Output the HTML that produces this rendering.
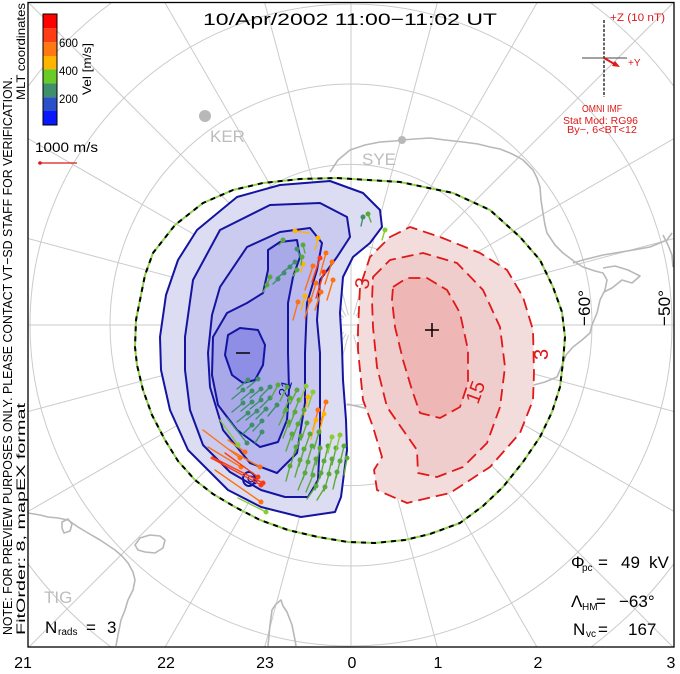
<!DOCTYPE html>
<html><head><meta charset="utf-8"><style>
html,body{margin:0;padding:0;background:#fff;width:680px;height:674px;overflow:hidden;}
svg{display:block;font-family:"Liberation Sans",sans-serif;overflow:hidden;}
</style></head><body>
<svg width="680" height="674" viewBox="0 0 680 674" xmlns="http://www.w3.org/2000/svg">
<defs><clipPath id="fr"><rect x="28" y="2" width="646" height="645"/></clipPath></defs>
<rect width="680" height="674" fill="#fff"/>
<g clip-path="url(#fr)">
<!-- grid -->
<g stroke="#cbcbcb" stroke-width="1" fill="none">
<circle cx="351" cy="325" r="80.3"/><circle cx="351" cy="325" r="160.6"/><circle cx="351" cy="325" r="241"/><circle cx="351" cy="325" r="321"/>
<path d="M28,86.4 A401.6,401.6 0 0 1 112.4,2 M589.6,2 A401.6,401.6 0 0 1 674,86.4 M674,563.6 A401.6,401.6 0 0 1 591,647 M111,647 A401.6,401.6 0 0 1 28,563.6"/>
<line x1="351" y1="2" x2="351" y2="647"/>
<line x1="28" y1="325" x2="674" y2="325"/>
<line x1="353.6" y1="334.7" x2="437.3" y2="647"/><line x1="348.4" y1="315.3" x2="264.5" y2="2"/>
<line x1="356" y1="333.7" x2="536.9" y2="647"/><line x1="346" y1="316.3" x2="164.5" y2="2"/>
<line x1="358.1" y1="332.1" x2="673" y2="647"/><line x1="343.9" y1="317.9" x2="28" y2="2"/>
<line x1="359.7" y1="330" x2="674" y2="511.5"/><line x1="342.3" y1="320" x2="28" y2="138.5"/>
<line x1="360.7" y1="327.6" x2="674" y2="411.5"/><line x1="341.3" y1="322.4" x2="28" y2="238.5"/>
<line x1="360.7" y1="322.4" x2="674" y2="238.5"/><line x1="341.3" y1="327.6" x2="28" y2="411.5"/>
<line x1="359.7" y1="320" x2="674" y2="138.5"/><line x1="342.3" y1="330" x2="28" y2="511.5"/>
<line x1="358.1" y1="317.9" x2="674" y2="2"/><line x1="343.9" y1="332.1" x2="29" y2="647"/>
<line x1="356" y1="316.3" x2="537.5" y2="2"/><line x1="346" y1="333.7" x2="165.1" y2="647"/>
<line x1="353.6" y1="315.3" x2="437.5" y2="2"/><line x1="348.4" y1="334.7" x2="264.7" y2="647"/>
</g>
<!-- coastlines -->
<g stroke="#b8b8b8" stroke-width="1.6" fill="none" stroke-linejoin="round">
<polyline points="330,172 338,160 350,150 365,145 380,142 395,141 402,140 415,139 430,138 445,140 463,142 478,144 490,147 500,149 510,153 518,157 523,160 528,165 533,170 537,178 540,187 541,200 543,213 545,225 547,233 555,245 563,253 575,262 583,267 595,271 603,273 607,280 605,290 600,300 597,313 592,325 590,333 582,340 573,347 566,355 563,363 557,377 545,382 530,386 500,395 470,400 440,405 410,410 380,412 360,407 347,404"/>
<polyline points="573,263 583,260 603,255 633,250 650,247 667,240 672,233"/>
<polyline points="603,268 615,266 628,270 640,276 632,283 622,280 612,288 604,292"/>
<polyline points="663,235 668,245 672,255 673,267"/>
<polyline points="28,513 40,515 48,517 58,518 68,520 78,527 88,533 100,540 115,550 122,556 128,563 133,572 135,580 133,590 128,600 125,610 121,620 118,635 116,646"/>
<polygon points="62,522 68,519 72,524 70,531 64,533 62,528"/>
<polygon points="135,545 140,538 150,535 160,536 165,540 163,548 155,553 145,552 138,550"/>
<polyline points="268,646 270,625 272,610 276,604 281,600 283,606 287,612 292,625 295,640 296,646"/>
</g>
<g fill="#b8b8b8"><circle cx="205" cy="116" r="6"/><circle cx="402" cy="140" r="4"/></g>
</g>
<!-- blue convection cell -->
<g stroke="#1414a0" stroke-width="2" stroke-linejoin="round">
<path fill="#dcdcf2" d="M280,185 L330,181 363,193 380,210 382,227 370,243 353,257 343,277 340,313 342,347 343,380 346,420 347,450 341,497 335,512 301,517 261,507 228,490 188,450 170,410 161,370 160,337 166,295 178,260 197,230 237,197 Z"/>
<path fill="#cbcbf0" d="M193,280 L220,230 270,205 320,203 347,217 350,237 337,257 320,280 317,320 320,353 320,403 320,440 318,480 308,497 285,497 261,490 230,472 203,445 190,410 185,370 185,337 Z"/>
<path fill="#babaee" d="M208,353 L212,315 220,287 247,247 280,232 310,228 322,243 317,270 307,303 305,353 305,403 297,453 277,473 250,463 223,430 210,387 Z"/>
<path fill="#a9a9ea" d="M213,337 L227,313 247,303 263,293 268,270 268,250 280,242 297,240 300,257 293,277 288,303 288,353 289,390 287,420 278,442 260,447 237,430 218,405 212,375 Z"/>
<path fill="#8e8ee6" d="M225,355 L228,335 240,328 258,330 265,345 263,365 255,380 243,383 232,375 Z"/>
<ellipse cx="249" cy="479" rx="6" ry="7" fill="none"/>
</g>
<!-- red convection cell -->
<g stroke="#e01818" stroke-width="1.8" stroke-dasharray="12 6" stroke-linejoin="round">
<path fill="#f3dcdc" d="M390,237 L410,227 440,237 480,253 507,270 523,297 533,330 534,373 533,400 520,433 490,467 450,493 407,503 377,490 374,470 382,457 373,427 363,400 358,350 358,330 360,287 370,257 Z"/>
<path fill="#efcdcd" d="M373,277 L390,260 423,253 457,263 483,290 500,327 505,367 500,407 487,443 463,467 437,477 418,473 417,450 403,430 387,407 377,367 373,327 372,300 Z"/>
<path fill="#efb6b6" d="M393,287 L407,278 427,278 447,290 460,313 468,350 468,383 460,407 440,418 420,413 412,390 403,360 395,327 392,300 Z"/>
</g>
<!-- contour labels -->
<g font-size="20" fill="#e01818">
<text transform="translate(368,290) rotate(-80)">3</text>
<text transform="translate(548,360) rotate(-90)">3</text>
<text transform="translate(478,405) rotate(-70)">15</text>
</g>
<g font-size="15" fill="#1414a0">
<text transform="translate(288,398) rotate(-75)">21</text>
<text transform="translate(255,486) rotate(-60)">9</text>
</g>
<g stroke="#000" stroke-width="1.5"><line x1="236" y1="353" x2="250" y2="353"/><line x1="425" y1="330" x2="439" y2="330"/><line x1="432" y1="323" x2="432" y2="337"/></g>
<!-- vectors -->
<g stroke-width="1.4" stroke-linecap="round">
<g stroke="#ff7010" fill="#ff7010">
<line x1="326" y1="253" x2="320" y2="275"/><circle cx="326" cy="253" r="1.8"/>
<line x1="332" y1="262" x2="325" y2="284"/><circle cx="332" cy="262" r="1.8"/>
<line x1="313" y1="266" x2="305" y2="290"/><circle cx="313" cy="266" r="1.8"/>
<line x1="333" y1="280" x2="327" y2="300"/><circle cx="333" cy="280" r="1.8"/>
<line x1="316" y1="283" x2="310" y2="303"/><circle cx="316" cy="283" r="1.8"/>
<line x1="298" y1="302" x2="293" y2="320"/><circle cx="298" cy="302" r="1.8"/>
<line x1="310" y1="300" x2="305" y2="318"/><circle cx="310" cy="300" r="1.8"/>
<line x1="321" y1="292" x2="315" y2="310"/><circle cx="321" cy="292" r="1.8"/>
<line x1="241" y1="467" x2="208" y2="447"/><circle cx="241" cy="467" r="1.8"/>
<line x1="261" y1="502" x2="215" y2="470"/><circle cx="261" cy="502" r="1.8"/>
<line x1="245" y1="452" x2="228" y2="440"/><circle cx="245" cy="452" r="1.8"/>
<line x1="240" y1="458" x2="203" y2="430"/><circle cx="240" cy="458" r="1.8"/>
<line x1="260" y1="467" x2="230" y2="450"/><circle cx="260" cy="467" r="1.8"/>
<line x1="318" y1="410" x2="313" y2="430"/><circle cx="318" cy="410" r="1.8"/>
<line x1="326" y1="402" x2="321" y2="422"/><circle cx="326" cy="402" r="1.8"/>
</g>
<g stroke="#ff3a10" fill="#ff3a10">
<line x1="320" y1="258" x2="312" y2="282"/><circle cx="320" cy="258" r="1.8"/>
<line x1="324" y1="272" x2="316" y2="298"/><circle cx="324" cy="272" r="1.8"/>
<line x1="261" y1="485" x2="211" y2="458"/><circle cx="261" cy="485" r="1.8"/>
<line x1="258" y1="477" x2="225" y2="453"/><circle cx="258" cy="477" r="1.8"/>
<line x1="263" y1="483" x2="212" y2="457"/><circle cx="263" cy="483" r="1.8"/>
</g>
<g stroke="#ffb400" fill="#ffb400">
<line x1="318" y1="238" x2="315" y2="250"/><circle cx="318" cy="238" r="1.8"/>
<line x1="295" y1="231" x2="309" y2="233"/><circle cx="295" cy="231" r="1.8"/>
<line x1="303" y1="264" x2="301" y2="272"/><circle cx="303" cy="264" r="1.8"/>
<line x1="305" y1="296" x2="301" y2="310"/><circle cx="305" cy="296" r="1.8"/>
<line x1="308" y1="397" x2="304" y2="415"/><circle cx="308" cy="397" r="1.8"/>
<line x1="316" y1="420" x2="311" y2="439"/><circle cx="316" cy="420" r="1.8"/>
<line x1="324" y1="414" x2="319" y2="434"/><circle cx="324" cy="414" r="1.8"/>
</g>
<g stroke="#3f8f6a" fill="#3f8f6a">
<line x1="297" y1="249" x2="300" y2="256"/><circle cx="297" cy="249" r="1.8"/>
<line x1="295" y1="262" x2="289" y2="267"/><circle cx="295" cy="262" r="1.8"/>
<line x1="290" y1="267" x2="284" y2="271"/><circle cx="290" cy="267" r="1.8"/>
<line x1="284" y1="273" x2="278" y2="277"/><circle cx="284" cy="273" r="1.8"/>
<line x1="278" y1="279" x2="273" y2="284"/><circle cx="278" cy="279" r="1.8"/>
<line x1="363" y1="217" x2="361" y2="226"/><circle cx="363" cy="217" r="1.8"/>
<line x1="248" y1="380" x2="237" y2="389"/><circle cx="248" cy="380" r="1.8"/>
<line x1="258" y1="379" x2="247" y2="388"/><circle cx="258" cy="379" r="1.8"/>
<line x1="243" y1="390" x2="232" y2="399"/><circle cx="243" cy="390" r="1.8"/>
<line x1="252" y1="391" x2="241" y2="400"/><circle cx="252" cy="391" r="1.8"/>
<line x1="261" y1="389" x2="250" y2="398"/><circle cx="261" cy="389" r="1.8"/>
<line x1="270" y1="387" x2="260" y2="397"/><circle cx="270" cy="387" r="1.8"/>
<line x1="243" y1="403" x2="232" y2="412"/><circle cx="243" cy="403" r="1.8"/>
<line x1="252" y1="402" x2="241" y2="411"/><circle cx="252" cy="402" r="1.8"/>
<line x1="261" y1="400" x2="250" y2="409"/><circle cx="261" cy="400" r="1.8"/>
<line x1="270" y1="398" x2="260" y2="408"/><circle cx="270" cy="398" r="1.8"/>
<line x1="248" y1="413" x2="237" y2="422"/><circle cx="248" cy="413" r="1.8"/>
<line x1="257" y1="411" x2="246" y2="420"/><circle cx="257" cy="411" r="1.8"/>
<line x1="266" y1="409" x2="256" y2="419"/><circle cx="266" cy="409" r="1.8"/>
<line x1="277" y1="405" x2="268" y2="416"/><circle cx="277" cy="405" r="1.8"/>
<line x1="252" y1="425" x2="243" y2="434"/><circle cx="252" cy="425" r="1.8"/>
<line x1="262" y1="421" x2="253" y2="431"/><circle cx="262" cy="421" r="1.8"/>
<line x1="247" y1="443" x2="227" y2="418"/><circle cx="247" cy="443" r="1.8"/>
<line x1="262" y1="432" x2="255" y2="443"/><circle cx="262" cy="432" r="1.8"/>
</g>
<g stroke="#5aaa3a" fill="#5aaa3a">
<line x1="283" y1="240" x2="279" y2="245"/><circle cx="283" cy="240" r="1.8"/>
<line x1="303" y1="245" x2="305" y2="253"/><circle cx="303" cy="245" r="1.8"/>
<line x1="302" y1="257" x2="301" y2="265"/><circle cx="302" cy="257" r="1.8"/>
<line x1="297" y1="270" x2="293" y2="276"/><circle cx="297" cy="270" r="1.8"/>
<line x1="270" y1="277" x2="267" y2="285"/><circle cx="270" cy="277" r="1.8"/>
<line x1="267" y1="285" x2="263" y2="292"/><circle cx="267" cy="285" r="1.8"/>
<line x1="368" y1="214" x2="371" y2="222"/><circle cx="368" cy="214" r="1.8"/>
<line x1="278" y1="385" x2="271" y2="398"/><circle cx="278" cy="385" r="1.8"/>
<line x1="287" y1="387" x2="280" y2="401"/><circle cx="287" cy="387" r="1.8"/>
<line x1="297" y1="390" x2="290" y2="404"/><circle cx="297" cy="390" r="1.8"/>
<line x1="290" y1="398" x2="283" y2="413"/><circle cx="290" cy="398" r="1.8"/>
<line x1="299" y1="400" x2="293" y2="415"/><circle cx="299" cy="400" r="1.8"/>
<line x1="286" y1="410" x2="279" y2="425"/><circle cx="286" cy="410" r="1.8"/>
<line x1="295" y1="412" x2="289" y2="427"/><circle cx="295" cy="412" r="1.8"/>
<line x1="304" y1="410" x2="298" y2="426"/><circle cx="304" cy="410" r="1.8"/>
<line x1="289" y1="422" x2="283" y2="438"/><circle cx="289" cy="422" r="1.8"/>
<line x1="298" y1="424" x2="292" y2="440"/><circle cx="298" cy="424" r="1.8"/>
<line x1="307" y1="423" x2="301" y2="440"/><circle cx="307" cy="423" r="1.8"/>
<line x1="292" y1="434" x2="286" y2="451"/><circle cx="292" cy="434" r="1.8"/>
<line x1="301" y1="436" x2="295" y2="453"/><circle cx="301" cy="436" r="1.8"/>
<line x1="310" y1="434" x2="304" y2="451"/><circle cx="310" cy="434" r="1.8"/>
<line x1="319" y1="432" x2="314" y2="449"/><circle cx="319" cy="432" r="1.8"/>
<line x1="296" y1="447" x2="291" y2="464"/><circle cx="296" cy="447" r="1.8"/>
<line x1="304" y1="449" x2="299" y2="466"/><circle cx="304" cy="449" r="1.8"/>
<line x1="312" y1="446" x2="307" y2="463"/><circle cx="312" cy="446" r="1.8"/>
<line x1="320" y1="448" x2="316" y2="465"/><circle cx="320" cy="448" r="1.8"/>
<line x1="328" y1="446" x2="324" y2="463"/><circle cx="328" cy="446" r="1.8"/>
<line x1="336" y1="448" x2="332" y2="465"/><circle cx="336" cy="448" r="1.8"/>
<line x1="344" y1="446" x2="340" y2="463"/><circle cx="344" cy="446" r="1.8"/>
<line x1="300" y1="460" x2="295" y2="477"/><circle cx="300" cy="460" r="1.8"/>
<line x1="308" y1="462" x2="303" y2="479"/><circle cx="308" cy="462" r="1.8"/>
<line x1="316" y1="459" x2="311" y2="476"/><circle cx="316" cy="459" r="1.8"/>
<line x1="324" y1="461" x2="320" y2="478"/><circle cx="324" cy="461" r="1.8"/>
<line x1="332" y1="459" x2="328" y2="476"/><circle cx="332" cy="459" r="1.8"/>
<line x1="340" y1="461" x2="336" y2="478"/><circle cx="340" cy="461" r="1.8"/>
<line x1="347" y1="458" x2="344" y2="475"/><circle cx="347" cy="458" r="1.8"/>
<line x1="305" y1="473" x2="298" y2="490"/><circle cx="305" cy="473" r="1.8"/>
<line x1="313" y1="475" x2="306" y2="492"/><circle cx="313" cy="475" r="1.8"/>
<line x1="321" y1="473" x2="315" y2="490"/><circle cx="321" cy="473" r="1.8"/>
<line x1="329" y1="474" x2="324" y2="491"/><circle cx="329" cy="474" r="1.8"/>
<line x1="337" y1="472" x2="333" y2="489"/><circle cx="337" cy="472" r="1.8"/>
<line x1="316" y1="486" x2="307" y2="499"/><circle cx="316" cy="486" r="1.8"/>
<line x1="325" y1="487" x2="317" y2="500"/><circle cx="325" cy="487" r="1.8"/>
<line x1="290" y1="466" x2="286" y2="481"/><circle cx="290" cy="466" r="1.8"/>
</g>
<g stroke="#88cc33" fill="#88cc33">
<line x1="385" y1="230" x2="382" y2="240"/><circle cx="385" cy="230" r="1.8"/>
<line x1="306" y1="386" x2="300" y2="401"/><circle cx="306" cy="386" r="1.8"/>
<line x1="313" y1="392" x2="308" y2="407"/><circle cx="313" cy="392" r="1.8"/>
<line x1="266" y1="512" x2="238" y2="498"/><circle cx="266" cy="512" r="1.8"/>
<line x1="238" y1="445" x2="220" y2="420"/><circle cx="238" cy="445" r="1.8"/>
<line x1="340" y1="435" x2="336" y2="451"/><circle cx="340" cy="435" r="1.8"/>
<line x1="332" y1="437" x2="328" y2="453"/><circle cx="332" cy="437" r="1.8"/>
</g>
</g>
<!-- Heppner-Maynard boundary -->
<g fill="none" stroke-width="2" stroke-linejoin="round">
<path stroke="#8fd24a" d="M337,178 L400,182 453,193 490,210 520,237 540,260 553,287 562,312 565,337 563,362 560,387 552,412 540,437 523,462 503,487 483,506 460,523 430,534 405,540 375,543 348,542 318,537 288,530 260,520 235,507 213,494 195,480 178,461 165,440 152,415 143,390 137,365 135,347 136,320 140,300 145,275 153,253 175,225 203,203 233,190 263,183 300,179 Z"/>
<path stroke="#000" stroke-dasharray="5 5" d="M337,178 L400,182 453,193 490,210 520,237 540,260 553,287 562,312 565,337 563,362 560,387 552,412 540,437 523,462 503,487 483,506 460,523 430,534 405,540 375,543 348,542 318,537 288,530 260,520 235,507 213,494 195,480 178,461 165,440 152,415 143,390 137,365 135,347 136,320 140,300 145,275 153,253 175,225 203,203 233,190 263,183 300,179 Z"/>
</g>
<!-- frame -->
<rect x="28" y="2.5" width="646" height="644.5" fill="none" stroke="#000" stroke-width="1.3"/>
<!-- station labels -->
<g fill="#bdbdbd" font-size="17">
<text x="210" y="142">KER</text>
<text x="362" y="165">SYE</text>
<text x="44" y="603">TIG</text>
</g>
<!-- title -->
<text x="203" y="25" font-size="17" textLength="294" lengthAdjust="spacingAndGlyphs">10/Apr/2002 11:00−11:02 UT</text>
<!-- left vertical text -->
<text transform="translate(12,635) rotate(-90)" font-size="13" textLength="558" lengthAdjust="spacingAndGlyphs">NOTE: FOR PREVIEW PURPOSES ONLY. PLEASE CONTACT VT−SD STAFF FOR VERIFICATION.</text>
<text transform="translate(25,635) rotate(-90)" font-size="12" textLength="232" lengthAdjust="spacingAndGlyphs">FitOrder: 8, mapEX format</text>
<text transform="translate(25,100) rotate(-90)" font-size="12" textLength="97" lengthAdjust="spacingAndGlyphs">MLT coordinates</text>
<!-- colour bar -->
<rect x="43" y="14" width="14" height="14.3" fill="#ff0000"/>
<rect x="43" y="28.3" width="14" height="14" fill="#ff3c14"/>
<rect x="43" y="42.3" width="14" height="13.7" fill="#ff7812"/>
<rect x="43" y="56" width="14" height="13.3" fill="#ffb400"/>
<rect x="43" y="69.3" width="14" height="14" fill="#6acb24"/>
<rect x="43" y="83.3" width="14" height="14" fill="#3f8e6c"/>
<rect x="43" y="97.3" width="14" height="13.7" fill="#2a4fc8"/>
<rect x="43" y="111" width="14" height="14" fill="#0a18ff"/>
<rect x="43" y="14" width="14" height="111" fill="none" stroke="#000" stroke-width="1"/>
<g font-size="12"><text x="59" y="47" textLength="19" lengthAdjust="spacingAndGlyphs">600</text><text x="59" y="75" textLength="19" lengthAdjust="spacingAndGlyphs">400</text><text x="59" y="103" textLength="19" lengthAdjust="spacingAndGlyphs">200</text></g>
<text transform="translate(91,95) rotate(-90)" font-size="12" textLength="52" lengthAdjust="spacingAndGlyphs">Vel [m/s]</text>
<!-- scale vector -->
<text x="35" y="152" font-size="14" textLength="63" lengthAdjust="spacingAndGlyphs">1000 m/s</text>
<line x1="40" y1="163" x2="77" y2="163" stroke="#e01818" stroke-width="1.2"/><circle cx="40" cy="163" r="1.8" fill="#e01818"/>
<!-- IMF panel -->
<line x1="604" y1="20" x2="604" y2="97" stroke="#000" stroke-width="1.2" stroke-dasharray="3 1.5"/>
<line x1="582" y1="58" x2="627" y2="58" stroke="#444" stroke-width="1"/>
<line x1="604" y1="58" x2="617" y2="65.5" stroke="#e01818" stroke-width="2"/>
<polygon points="620,67 612,66 615,61" fill="#e01818"/>
<g fill="#e01818" font-size="11">
<text x="610" y="21" textLength="55" lengthAdjust="spacingAndGlyphs">+Z (10 nT)</text>
<text x="628" y="66" font-size="10">+Y</text>
<text x="582" y="112" font-size="10" textLength="40" lengthAdjust="spacingAndGlyphs">OMNI IMF</text>
<text x="563" y="124" font-size="10" textLength="75" lengthAdjust="spacingAndGlyphs">Stat Mod: RG96</text>
<text x="567" y="133" font-size="10" textLength="70" lengthAdjust="spacingAndGlyphs">By−, 6&lt;BT&lt;12</text>
</g>
<!-- latitude labels -->
<text transform="translate(590,326) rotate(-90)" font-size="17" textLength="36" lengthAdjust="spacingAndGlyphs">−60°</text>
<text transform="translate(670,326) rotate(-90)" font-size="17" textLength="36" lengthAdjust="spacingAndGlyphs">−50°</text>
<!-- stats -->
<g font-size="17">
<text x="45" y="633">N</text><text x="58" y="635" font-size="10">rads</text><text x="86" y="633">=</text><text x="107" y="633">3</text>
<text x="571" y="568">Φ</text><text x="582" y="571" font-size="10">pc</text><text x="598" y="568">=</text><text x="621" y="568">49</text><text x="649" y="568">kV</text>
<text x="571" y="607">Λ</text><text x="582" y="610" font-size="10">HM</text><text x="596" y="607">=</text><text x="619" y="607">−63°</text>
<text x="573" y="635">N</text><text x="586" y="637" font-size="10">vc</text><text x="598" y="635">=</text><text x="628" y="635">167</text>
</g>
<!-- MLT labels -->
<g font-size="16" text-anchor="middle">
<text x="23" y="668">21</text><text x="166" y="668">22</text><text x="265" y="668">23</text><text x="352" y="668">0</text><text x="438" y="668">1</text><text x="538" y="668">2</text><text x="671" y="668">3</text>
</g>
</svg>
</body></html>
